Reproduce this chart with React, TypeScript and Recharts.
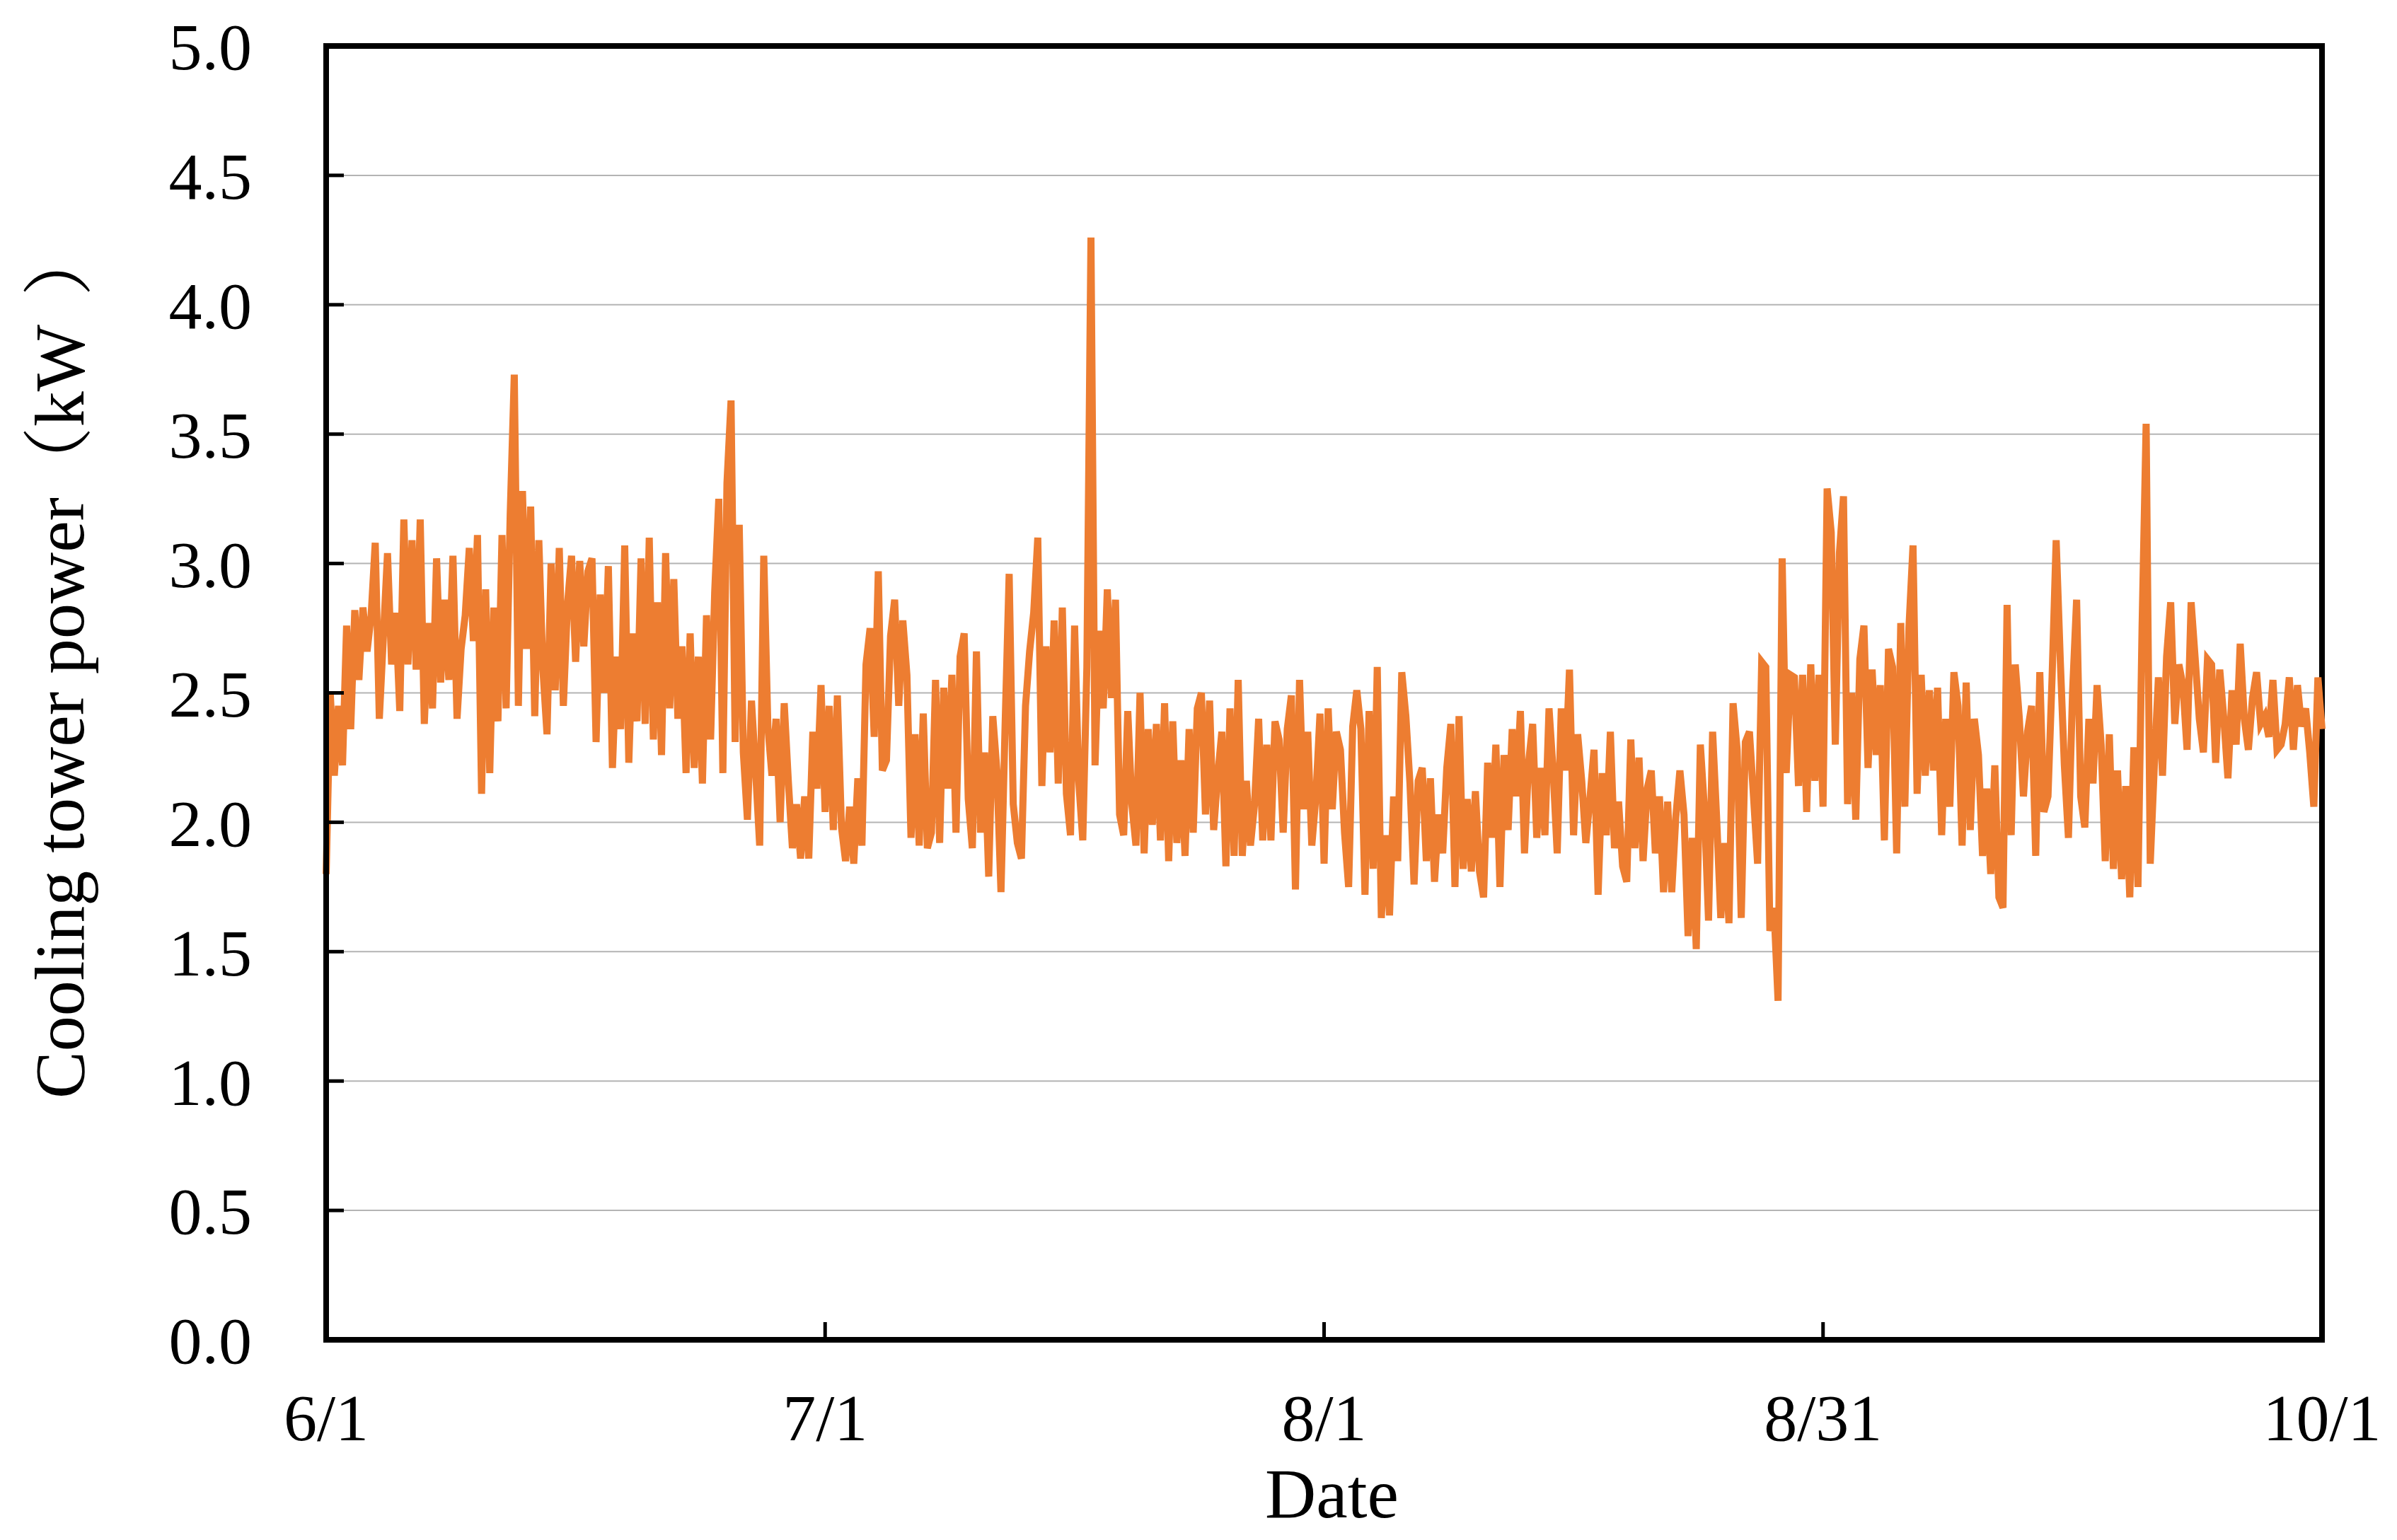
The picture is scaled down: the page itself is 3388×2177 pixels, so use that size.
import { LineChart, Line, XAxis, YAxis, CartesianGrid, ReferenceArea } from 'recharts';

const june = [
  1.80, 2.50, 2.18, 2.45, 2.22, 2.76, 2.36, 2.82, 2.55, 2.83, 2.66, 2.80, 3.08, 2.40, 2.72, 3.04,
  2.61, 2.81, 2.43, 3.17, 2.61, 3.09, 2.59, 3.17, 2.38, 2.77, 2.44, 3.02, 2.54, 2.86, 2.55, 3.03,
  2.40, 2.67, 2.80, 3.06, 2.70, 3.11, 2.11, 2.90, 2.19, 2.83, 2.39, 3.11, 2.44, 3.19, 3.73, 2.45,
  3.28, 2.67, 3.22, 2.41, 3.09, 2.59, 2.34, 3.00, 2.51, 3.06, 2.45, 2.84, 3.03, 2.62, 3.01, 2.68,
  2.97, 3.02, 2.31, 2.88, 2.50, 2.99, 2.21, 2.64, 2.36, 3.07, 2.23, 2.73, 2.39, 3.02, 2.38, 3.10,
  2.32, 2.85, 2.26, 3.04, 2.44, 2.94, 2.40, 2.68, 2.19, 2.73, 2.21, 2.64, 2.15, 2.80, 2.32, 2.89,
  3.25, 2.19, 3.31, 3.63, 2.31, 3.15, 2.27, 2.01, 2.47, 2.20, 1.91, 3.03, 2.37, 2.18, 2.40, 2.00,
  2.46, 2.16, 1.90, 2.07, 1.86, 2.10, 1.86, 2.35,
];
const july = [
  2.13, 2.53, 2.04, 2.45, 1.97, 2.49, 1.98, 1.85, 2.06, 1.84, 2.17, 1.91, 2.61, 2.75, 2.33, 2.97,
  2.20, 2.24, 2.72, 2.86, 2.45, 2.78, 2.57, 1.94, 2.34, 1.91, 2.42, 1.90, 1.96, 2.55, 1.92, 2.52,
  2.13, 2.57, 1.96, 2.64, 2.73, 2.09, 1.90, 2.66, 1.96, 2.27, 1.79, 2.41, 2.20, 1.73, 2.37, 2.96,
  2.07, 1.92, 1.86, 2.45, 2.66, 2.81, 3.10, 2.14, 2.68, 2.27, 2.78, 2.15, 2.83, 2.11, 1.95, 2.76,
  2.16, 1.93, 2.60, 4.26, 2.22, 2.74, 2.44, 2.90, 2.48, 2.86, 2.03, 1.95, 2.43, 2.07, 1.91, 2.50,
  1.88, 2.36, 1.99, 2.38, 1.93, 2.46, 1.85, 2.39, 1.92, 2.24, 1.87, 2.36, 1.96, 2.44, 2.50, 2.03,
  2.47, 1.97, 2.18, 2.35, 1.83, 2.44, 1.87, 2.55, 1.87, 2.16, 1.91, 2.07, 2.40, 1.93, 2.30, 1.93,
  2.39, 2.32, 1.96, 2.36, 2.49, 1.74, 2.55, 2.05, 2.35, 1.91, 2.10, 2.42,
];
const august = [
  1.84, 2.44, 2.05, 2.35, 2.28, 1.96, 1.75, 2.37, 2.51, 2.36, 1.72, 2.43, 1.82, 2.60, 1.63, 1.95,
  1.64, 2.10, 1.85, 2.58, 2.41, 2.15, 1.76, 2.16, 2.21, 1.85, 2.17, 1.77, 2.03, 1.88, 2.21, 2.38,
  1.75, 2.41, 1.82, 2.09, 1.81, 2.12, 1.81, 1.71, 2.23, 1.94, 2.30, 1.75, 2.26, 1.97, 2.36, 2.10,
  2.43, 1.88, 2.23, 2.38, 1.94, 2.21, 1.95, 2.44, 2.20, 1.88, 2.44, 2.20, 2.59, 1.95, 2.34, 2.16,
  1.92, 2.09, 2.28, 1.72, 2.19, 1.95, 2.35, 1.90, 2.08, 1.83, 1.77, 2.32, 1.90, 2.25, 1.85, 2.13,
  2.20, 1.88, 2.10, 1.73, 2.08, 1.73, 2.02, 2.20, 2.03, 1.56, 1.94, 1.51, 2.30, 2.05, 1.62, 2.35,
  2.01, 1.63, 1.92, 1.61, 2.46, 2.28, 1.63, 2.31, 2.35, 2.10, 1.84, 2.62, 2.60, 1.58, 1.67, 1.31,
  3.02, 2.19, 2.57, 2.56, 2.14, 2.57, 2.04, 2.61, 2.16, 2.57, 2.06, 3.29,
];
const september = [
  3.12, 2.30, 3.04, 3.26, 2.07, 2.50, 2.01, 2.63, 2.76, 2.21, 2.59, 2.26, 2.53, 1.93, 2.67, 2.60,
  1.88, 2.77, 2.06, 2.75, 3.07, 2.11, 2.57, 2.18, 2.51, 2.20, 2.52, 1.95, 2.40, 2.06, 2.58, 2.45,
  1.91, 2.54, 1.97, 2.40, 2.26, 1.87, 2.13, 1.80, 2.22, 1.71, 1.67, 2.84, 1.95, 2.61, 2.40, 2.10,
  2.35, 2.45, 1.87, 2.58, 2.04, 2.10, 2.56, 3.09, 2.63, 2.22, 1.94, 2.50, 2.86, 2.10, 1.98, 2.40,
  2.15, 2.53, 2.30, 1.85, 2.34, 1.82, 2.20, 1.78, 2.14, 1.71, 2.29, 1.75, 2.75, 3.54, 1.84, 2.22,
  2.56, 2.18, 2.64, 2.85, 2.38, 2.61, 2.53, 2.28, 2.85, 2.63, 2.40, 2.27, 2.63, 2.61, 2.23, 2.59,
  2.40, 2.17, 2.51, 2.30, 2.69, 2.40, 2.28, 2.48, 2.58, 2.38, 2.41, 2.33, 2.55, 2.28, 2.30, 2.38,
  2.56, 2.28, 2.53, 2.37, 2.44, 2.27, 2.06, 2.56, 2.36,
];

const STEP = 0.25; // days between samples
const monthStart = [0, 30, 61, 92]; // days since 6/1

const xTicks = [0, 30.5, 61, 91.5, 122];
const xTickLabels = ['6/1', '7/1', '8/1', '8/31', '10/1'];
const yTicks = [0, 0.5, 1, 1.5, 2, 2.5, 3, 3.5, 4, 4.5, 5];

const data = [june, july, august, september].flatMap((vals, m) =>
  vals.map((v, i) => ({ day: monthStart[m] + i * STEP, power: v }))
);

const FONT = "'Times New Roman', 'Liberation Serif', 'Noto Serif CJK SC', 'Noto Sans CJK SC', serif";

function YTitle(props: any) {
  const { viewBox } = props;
  const x = viewBox.x + 118;
  const y = viewBox.y + viewBox.height - 341;
  return (
    <text
      transform={`translate(${x}, ${y}) rotate(-90)`}
      textAnchor="start"
      fontFamily={FONT}
      fontSize={100}
      fill="#000"
    >
      <tspan>Cooling tower power</tspan>
      <tspan>（</tspan>
      <tspan>kW</tspan>
      <tspan dx={40}>）</tspan>
    </text>
  );
}

export default function App() {
  return (
    <div style={{ position: 'absolute', left: 0, top: 0, background: '#fff' }}>
      <LineChart
        width={3388}
        height={2177}
        data={data}
        margin={{ top: 65, right: 106, bottom: 0, left: 0 }}
      >
        <CartesianGrid vertical={false} stroke="#b4b4b4" strokeWidth={2} />
        <XAxis
          dataKey="day"
          type="number"
          domain={[0, 122]}
          ticks={xTicks}
          tickFormatter={(v: number) => xTickLabels[xTicks.indexOf(v)]}
          height={283}
          tickSize={-25}
          tickMargin={100}
          axisLine={{ stroke: '#000', strokeWidth: 8 }}
          tickLine={{ stroke: '#000', strokeWidth: 5 }}
          tick={{ fill: '#000', fontSize: 94, fontFamily: FONT }}
          interval={0}
          label={{ value: 'Date', position: 'insideBottom', offset: 32, dx: 11, fill: '#000', fontSize: 100, fontFamily: FONT }}
        />
        <YAxis
          type="number"
          domain={[0, 5]}
          ticks={yTicks}
          tickFormatter={(v: number) => v.toFixed(1)}
          width={461}
          tickSize={-25}
          tickMargin={130}
          axisLine={{ stroke: '#000', strokeWidth: 8 }}
          tickLine={{ stroke: '#000', strokeWidth: 5 }}
          tick={{ fill: '#000', fontSize: 94, fontFamily: FONT }}
          interval={0}
          label={<YTitle />}
        />
        <Line
          type="linear"
          dataKey="power"
          stroke="#ED7D31"
          strokeWidth={10}
          dot={false}
          activeDot={false}
          isAnimationActive={false}
        />
        <ReferenceArea
          x1={0}
          x2={122}
          y1={0}
          y2={5}
          fill="none"
          fillOpacity={0}
          stroke="#000"
          strokeWidth={8}
          ifOverflow="visible"
        />
      </LineChart>
    </div>
  );
}
